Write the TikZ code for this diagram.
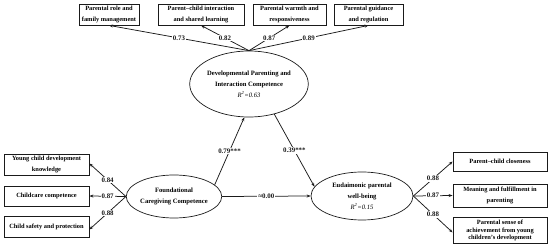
\documentclass[tikz,border=0pt]{standalone}
\usepackage{fontspec}
\setmainfont{Liberation Serif}
\usetikzlibrary{arrows.meta, positioning, shapes.geometric}
\definecolor{linecol}{HTML}{1A1A1A}
\tikzset{
    measbox/.style 2 args={rectangle, draw=linecol, line width=0.8pt, minimum width=#1, minimum height=#2, inner sep=0pt, align=center, font=\fontsize{6.4}{10.5}\selectfont\bfseries},
    latent/.style 2 args={ellipse, draw=linecol, line width=0.7pt, minimum width=#1, minimum height=#2, inner sep=0pt, align=center, font=\fontsize{6.6}{11}\selectfont\bfseries},
    pathlabel/.style={fill=white, inner sep=1pt, font=\fontsize{6.9}{7}\selectfont\bfseries},
    loadarrow/.style={-{Stealth[length=4pt, width=3pt]}, linecol, line width=0.75pt},
}
\begin{document}
\begin{tikzpicture}[x=1pt, y=-1pt]
\useasboundingbox (0,0) rectangle (550,248);
% latent variables
\node[latent={106pt}{66pt}] (dpic) at (249,84)
    {Developmental Parenting and\\ Interaction Competence\\ {\normalfont\itshape R\textsuperscript{2}=0.63}};
\node[latent={92pt}{43pt}] (fcc) at (174,196.5)
    {Foundational\\ Caregiving Competence};
\node[latent={102pt}{48pt}] (epw) at (362,196)
    {Eudaimonic parental\\ well-being\\ {\normalfont\itshape R\textsuperscript{2}=0.15}};
% indicators of developmental parenting
\node[measbox={60pt}{21pt}] (role) at (109,14.5) {Parental role and\\ family management};
\node[measbox={86pt}{21pt}] (share) at (201,14.5) {Parent–child interaction\\ and shared learning};
\node[measbox={73pt}{21pt}] (warm) at (289.5,14.5) {Parental warmth and\\ responsiveness};
\node[measbox={69pt}{21pt}] (guide) at (368.5,14.5) {Parental guidance\\ and regulation};
% indicators of foundational caregiving
\node[measbox={85pt}{21pt}] (know) at (46.5,164.5) {Young child development\\ knowledge};
\node[measbox={85pt}{20pt}] (care) at (46.5,196) {Childcare competence};
\node[measbox={85pt}{21pt}] (safe) at (46.5,226.5) {Child safety and protection};
% indicators of eudaimonic well-being
\node[measbox={94pt}{19pt}] (close) at (500,161.5) {Parent–child closeness};
\node[measbox={94pt}{23pt}] (mean) at (500,195.5) {Meaning and fulfillment in\\ parenting};
\node[measbox={94pt}{26pt}, font=\fontsize{6.4}{7.4}\selectfont\bfseries] (achieve) at (500,230.5) {Parental sense of\\ achievement from young\\ children's development};
% loadings
\draw[loadarrow] (dpic.north) -- node[pathlabel] {0.73} (role.south);
\draw[loadarrow] (dpic.north) -- node[pathlabel] {0.82} (share.south);
\draw[loadarrow] (dpic.north) -- node[pathlabel] {0.87} (warm.south);
\draw[loadarrow] (dpic.north) -- node[pathlabel] {0.89} (guide.south);
\draw[loadarrow] (fcc.west) -- node[pathlabel] {0.84} ([yshift=1pt]know.east);
\draw[loadarrow] (fcc.west) -- node[pathlabel] {0.87} (care.east);
\draw[loadarrow] (fcc.west) -- node[pathlabel] {0.88} ([yshift=-3pt]safe.east);
\draw[loadarrow] (epw.east) -- node[pathlabel] {0.88} (close.west);
\draw[loadarrow] (epw.east) -- node[pathlabel] {0.87} (mean.west);
\draw[loadarrow] (epw.east) -- node[pathlabel] {0.88} ([yshift=-2pt]achieve.west);
% structural paths
\draw[loadarrow] (fcc.16) -- node[pathlabel] {0.79***} (dpic.262);
\draw[loadarrow] (dpic.310) -- node[pathlabel] {0.39***} (epw.169);
\draw[loadarrow] (fcc.east) -- node[pathlabel] {≈0.00} (epw.west);
\end{tikzpicture}
\end{document}
